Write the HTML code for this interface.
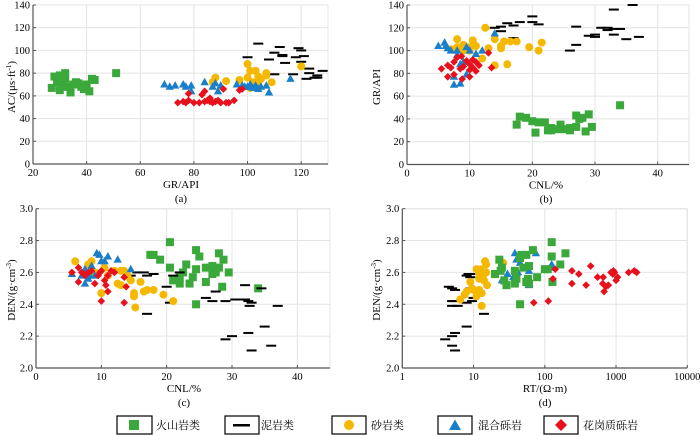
<!DOCTYPE html>
<html><head><meta charset="utf-8">
<style>
body{margin:0;background:#fff;}
svg{display:block;font-family:"Liberation Serif","Noto Serif CJK SC","Noto Sans CJK SC",serif;}
</style></head>
<body>
<svg id="chart" width="700" height="436" viewBox="0 0 700 436" xmlns="http://www.w3.org/2000/svg">
<g id="panels"></g>
<g id="legend">
  <g>
    <rect x="117" y="416" width="35" height="18" fill="#fff" stroke="#000" stroke-width="1.2"/>
    <rect x="129" y="420" width="10" height="10" fill="#3aa83a"/>
    <text x="156" y="429" font-size="11">火山岩类</text>
  </g>
  <g>
    <rect x="225" y="416" width="34" height="18" fill="#fff" stroke="#000" stroke-width="1.2"/>
    <rect x="233" y="424" width="17" height="2.5" fill="#000"/>
    <text x="261" y="429" font-size="11">泥岩类</text>
  </g>
  <g>
    <rect x="332" y="416" width="34" height="18" fill="#fff" stroke="#000" stroke-width="1.2"/>
    <circle cx="349" cy="425" r="5" fill="#f5b800"/>
    <text x="371" y="429" font-size="11">砂岩类</text>
  </g>
  <g>
    <rect x="438" y="416" width="34" height="18" fill="#fff" stroke="#000" stroke-width="1.2"/>
    <polygon points="455,419.5 461,430 449,430" fill="#1a7fc8"/>
    <text x="478" y="429" font-size="11">混合砾岩</text>
  </g>
  <g>
    <rect x="544" y="416" width="34" height="18" fill="#fff" stroke="#000" stroke-width="1.2"/>
    <polygon points="561,419 567,425 561,431 555,425" fill="#e8101c"/>
    <text x="583" y="429" font-size="11">花岗质砾岩</text>
  </g>
</g>
</svg>
<script>
// ---------- data ----------
const aGreen=[[27,67],[28,77],[29,72],[30,65],[30,78],[31,70],[32,75],[32,80],[33,68],[34,63],[35,70],[36,72],[37,71],[38,68],[39,66],[40,70],[41,64],[42,75],[43,74],[51,80],[29,74],[31,68]];
const aBlack=[[100,94],[104,106],[108,92],[110,98],[112,103],[113,96],[114,89],[117,79],[119,102],[118,94],[121,95],[120,100],[123,84],[122,75],[123,80],[125,76],[126,78],[128,82],[120,90],[110,79],[113,95],[126,76]];
const aYellow=[[87,72],[88,76],[92,73],[97,74],[100,88],[100,76],[101,82],[101,67],[102,72],[103,82],[104,77],[105,75],[107,80],[107,78],[109,72],[120,86],[102,70],[104,72]];
const aBlue=[[69,70],[71,68],[73,69],[76,70],[77,68],[79,64],[79,69],[84,72],[87,68],[88,71],[89,64],[90,69],[96,70],[98,69],[99,68],[101,70],[102,67],[103,69],[104,66],[105,68],[107,69],[108,63],[116,75],[100,68]];
const aRed=[[74,54],[76,55],[77,54],[78,62],[78,56],[80,54],[82,54],[83,61],[84,64],[85,56],[86,55],[87,54],[88,55],[89,56],[90,54],[91,66],[92,54],[93,54],[95,56],[97,65],[98,66],[84,55],[86,58]];

const bGreen=[[17.5,35],[18,42],[19,41],[20,38],[20.5,28],[21,37],[22,37],[22.5,30],[23,30],[24,31],[24.5,35],[25,31],[26,30],[27,33],[27,43],[27.5,40],[28,41],[28.5,29],[29,44],[29.5,33],[34,52],[23,32],[26,32]];
const bBlack=[[14,120],[15,121],[15,117],[16,124],[17,122],[17,111],[18,125],[20,125],[20,130],[21,123],[26,100],[27,121],[27,105],[29,113],[30,114],[30,112],[31,120],[32,118],[32,120],[33,136],[33,114],[33,119],[34,119],[35,110],[36,140],[37,112]];
const bYellow=[[7,101],[8,110],[9,105],[9,100],[10,100],[10,103],[10.5,109],[11,104],[12,93],[12.5,120],[13,102],[14,110],[14,87],[15,102],[15,104],[15.5,108],[16,88],[16.5,108],[17.5,108],[19.5,103],[21,100],[21.5,107],[8,103]];
const bBlue=[[5,104],[6,107],[6.5,102],[7,100],[7.5,77],[7.5,70],[8,100],[8,96],[8.5,71],[8.5,88],[9,90],[9.5,79],[9.5,103],[10,100],[11,97],[12,100],[14,115],[6.2,104]];
const bRed=[[5.5,84],[6.5,77],[6.5,87],[7,85],[7.5,90],[7.5,79],[8,94],[8.5,84],[8.7,95],[8.8,75],[9,86],[9.5,91],[10,83],[10,88],[10,77],[10.5,92],[11,82],[11,90],[11.5,87],[13,98],[13.5,85],[10.5,85]];

const cGreen=[[17.5,2.71],[18,2.71],[19,2.68],[20.5,2.79],[20.5,2.63],[21,2.55],[22,2.53],[22,2.57],[22.5,2.60],[23,2.65],[23.5,2.53],[24,2.57],[24.5,2.74],[24.5,2.62],[25,2.70],[26,2.63],[26,2.54],[27,2.64],[27,2.59],[27.5,2.62],[28,2.72],[28,2.63],[28.5,2.51],[28.7,2.68],[29.5,2.60],[34,2.50],[24.5,2.40],[27.5,2.60]];
const cBlack=[[14.5,2.58],[15.5,2.60],[16.5,2.60],[17,2.58],[18,2.59],[17,2.34],[20,2.51],[20.5,2.41],[21,2.58],[22,2.6],[26,2.44],[27,2.42],[27.5,2.48],[29,2.18],[29,2.42],[30,2.20],[30.5,2.43],[32,2.52],[32,2.43],[32.5,2.42],[32.7,2.39],[33,2.11],[32.5,2.22],[34.5,2.50],[35,2.26],[36,2.14],[37,2.39],[33,2.41]];
const cYellow=[[6,2.67],[8.5,2.67],[8,2.65],[9,2.60],[10,2.47],[10.5,2.63],[11,2.58],[12,2.61],[12.5,2.53],[13,2.61],[13.5,2.61],[14,2.58],[14.5,2.55],[15,2.47],[15,2.45],[15.2,2.38],[16,2.54],[16.5,2.48],[17,2.49],[18,2.49],[19.5,2.46],[21,2.42],[13,2.52]];
const cBlue=[[5.5,2.59],[7,2.58],[7.5,2.62],[7.5,2.53],[8,2.56],[8.5,2.64],[9,2.58],[9.3,2.72],[9.7,2.71],[10,2.67],[10.5,2.67],[11,2.70],[12.5,2.68],[14.5,2.62],[8.2,2.58]];
const cRed=[[5.5,2.6],[6.5,2.63],[6.5,2.54],[7,2.60],[7.5,2.58],[8,2.60],[8.5,2.61],[9,2.53],[9.5,2.58],[10,2.42],[10,2.61],[10.5,2.55],[10.7,2.52],[11,2.48],[11,2.58],[11.5,2.61],[12,2.60],[13.5,2.57],[13.5,2.41],[13.8,2.51],[9.8,2.6]];

const dGreen=[[20,2.59],[23,2.68],[24,2.61],[25,2.63],[27,2.55],[29,2.52],[38,2.61],[38,2.53],[40,2.56],[45,2.40],[45,2.69],[47,2.71],[50,2.63],[55,2.54],[58,2.56],[60,2.53],[60,2.64],[68,2.74],[78,2.57],[100,2.62],[110,2.62],[125,2.79],[125,2.70],[128,2.54],[165,2.65],[195,2.72],[55,2.71]];
const dBlack=[[4,2.18],[4.5,2.51],[5,2.50],[5,2.42],[5,2.39],[5,2.20],[5,2.14],[5.5,2.11],[5.5,2.22],[5.5,2.49],[5.5,2.42],[6,2.39],[8,2.26],[8,2.58],[8.5,2.59],[9,2.59],[9,2.50],[8,2.41],[9.5,2.42],[10,2.44],[14,2.34],[9,2.57]];
const dYellow=[[6.5,2.43],[7.5,2.46],[8,2.48],[9,2.54],[9.5,2.50],[10,2.49],[11,2.62],[11,2.45],[12,2.59],[12,2.49],[12.5,2.62],[13,2.39],[13,2.47],[13.5,2.58],[14,2.55],[14.5,2.67],[15,2.65],[15,2.60],[15.5,2.52],[26,2.66],[12,2.56]];
const dBlue=[[25,2.55],[30,2.59],[36,2.57],[38,2.72],[40,2.68],[42,2.60],[60,2.61],[60,2.52],[75,2.72],[125,2.65],[130,2.63],[45,2.66]];
const dRed=[[70,2.41],[112,2.42],[130,2.56],[140,2.62],[240,2.61],[240,2.53],[300,2.59],[380,2.52],[440,2.64],[550,2.57],[650,2.53],[660,2.57],[680,2.48],[720,2.51],[780,2.52],[850,2.60],[900,2.59],[920,2.61],[1000,2.55],[1050,2.57],[1500,2.60],[1800,2.61],[1950,2.60],[950,2.60]];

const aXTicks=[20,40,60,80,100,120];
const aYTicks=[0,20,40,60,80,100,120,140];
const bXTicks=[0,10,20,30,40];
const bYTicks=[0,20,40,60,80,100,120,140];
const cXTicks=[0,10,20,30,40];
const denTicks=[2.0,2.2,2.4,2.6,2.8,3.0];
const dXTicks=[1,10,100,1000,10000];

// ---------- drawing ----------
const NS="http://www.w3.org/2000/svg";
const root=document.getElementById('panels');
function mk(tag,attrs,parent){const e=document.createElementNS(NS,tag);for(const k in attrs)e.setAttribute(k,attrs[k]);parent.appendChild(e);return e;}

const COL={green:'#3aa83a',black:'#000',yellow:'#f5b800',blue:'#1a7fc8',red:'#e8101c'};

function marker(g,kind,px,py){
  let e;
  if(kind==='green'){e=mk('rect',{x:px-4,y:py-4,width:8,height:8,fill:COL.green},g);}
  else if(kind==='black'){e=mk('rect',{x:px-5,y:py-1,width:10,height:2,fill:COL.black},g);}
  else if(kind==='yellow'){e=mk('circle',{cx:px,cy:py,r:4,fill:COL.yellow},g);}
  else if(kind==='blue'){e=mk('polygon',{points:`${px},${py-4.5} ${px+4.2},${py+3} ${px-4.2},${py+3}`,fill:COL.blue},g);}
  else {e=mk('polygon',{points:`${px},${py-3.8} ${px+3.8},${py} ${px},${py+3.8} ${px-3.8},${py}`,fill:COL.red},g);}
  
  
}

function panel(cfg){
  const g=mk('g',{},root);
  
  
  const {x0,x1,y0,y1}=cfg;
  const sx=cfg.xlog?(v=>x0+(Math.log10(v)-Math.log10(cfg.xmin))/(Math.log10(cfg.xmax)-Math.log10(cfg.xmin))*(x1-x0))
                   :(v=>x0+(v-cfg.xmin)/(cfg.xmax-cfg.xmin)*(x1-x0));
  const sy=v=>y0-(v-cfg.ymin)/(cfg.ymax-cfg.ymin)*(y0-y1);
  // grid
  const grid=mk('g',{},g);
  
  
  cfg.xticks.forEach(t=>mk('line',{x1:sx(t),x2:sx(t),y1:y1,y2:y0,stroke:'#e4e4e4','stroke-width':1},grid));
  cfg.yticks.forEach(t=>mk('line',{x1:x0,x2:x1,y1:sy(t),y2:sy(t),stroke:'#e4e4e4','stroke-width':1},grid));
  mk('line',{x1:x1,x2:x1,y1:y1,y2:y0,stroke:'#e4e4e4'},grid);
  mk('line',{x1:x0,x2:x1,y1:y1,y2:y1,stroke:'#e4e4e4'},grid);
  // points
  const pts=mk('g',{},g);
  
  
  cfg.series.forEach(([kind,arr])=>arr.forEach(p=>marker(pts,kind,sx(p[0]),sy(p[1]))));
  // axes
  const ax=mk('g',{},g);
  
  
  mk('line',{x1:x0,x2:x0,y1:y1,y2:y0,stroke:'#555','stroke-width':1.2},ax);
  mk('line',{x1:x0,x2:x1,y1:y0,y2:y0,stroke:'#555','stroke-width':1.2},ax);
  cfg.xticks.forEach(t=>{
    mk('line',{x1:sx(t),x2:sx(t),y1:y0,y2:y0-3,stroke:'#555'},ax);
    const tx=mk('text',{x:sx(t),y:y0+12,'font-size':10.5,'text-anchor':'middle'},ax);
    tx.textContent=t;
    
    
  });
  cfg.yticks.forEach(t=>{
    mk('line',{x1:x0,x2:x0+3,y1:sy(t),y2:sy(t),stroke:'#555'},ax);
    const ty=mk('text',{x:x0-3,y:sy(t)+3.5,'font-size':10.5,'text-anchor':'end'},ax);
    ty.textContent=cfg.yfmt?t.toFixed(1):t;
    
    
  });
  const xt=mk('text',{x:cfg.xtx,y:y0+24,'font-size':11,'text-anchor':'middle'},g);
  xt.textContent=cfg.xtitle;
  
  
  const yt=mk('text',{x:0,y:0,'font-size':11,'text-anchor':'middle',transform:`translate(${cfg.ytx},${cfg.yty}) rotate(-90)`},g);
  yt.innerHTML=cfg.ytitle;
  
  
  const cap=mk('text',{x:cfg.xtx,y:y0+38,'font-size':11,'text-anchor':'middle'},g);
  cap.textContent=cfg.cap;
  
  
}

panel({name:'panel-a-ac-vs-gr',x0:33,x1:328,y0:164,y1:5,xmin:20,xmax:130,ymin:0,ymax:140,xticks:aXTicks,yticks:aYTicks,
  series:[['green',aGreen],['black',aBlack],['yellow',aYellow],['blue',aBlue],['red',aRed]],
  xtitle:'GR/API',xtx:181,ytitle:'AC/(μs·ft<tspan font-size="7" dy="-4">-1</tspan><tspan dy="4">)</tspan>',ytx:15,yty:87,cap:'(a)'});
panel({name:'panel-b-gr-vs-cnl',x0:407,x1:689,y0:164.5,y1:5,xmin:0,xmax:45,ymin:0,ymax:140,xticks:bXTicks,yticks:bYTicks,
  series:[['green',bGreen],['black',bBlack],['yellow',bYellow],['blue',bBlue],['red',bRed]],
  xtitle:'CNL/%',xtx:546,ytitle:'GR/API',ytx:380,yty:87,cap:'(b)'});
panel({name:'panel-c-den-vs-cnl',x0:36,x1:330,y0:368,y1:208.7,xmin:0,xmax:45,ymin:2.0,ymax:3.0,xticks:cXTicks,yticks:denTicks,yfmt:true,
  series:[['green',cGreen],['black',cBlack],['yellow',cYellow],['blue',cBlue],['red',cRed]],
  xtitle:'CNL/%',xtx:184,ytitle:'DEN/(g·cm<tspan font-size="7" dy="-4">-3</tspan><tspan dy="4">)</tspan>',ytx:15,yty:290,cap:'(c)'});
panel({name:'panel-d-den-vs-rt',x0:402.3,x1:687.3,y0:368,y1:208.7,xmin:1,xmax:10000,xlog:true,ymin:2.0,ymax:3.0,xticks:dXTicks,yticks:denTicks,yfmt:true,
  series:[['black',dBlack],['yellow',dYellow],['blue',dBlue],['green',dGreen],['red',dRed]],
  xtitle:'RT/(Ω·m)',xtx:545,ytitle:'DEN/(g·cm<tspan font-size="7" dy="-4">-3</tspan><tspan dy="4">)</tspan>',ytx:380,yty:290,cap:'(d)'});
</script>
</body></html>
